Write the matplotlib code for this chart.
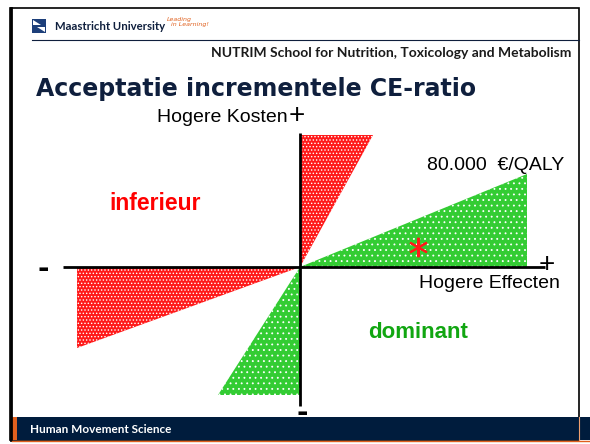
import numpy as np
import matplotlib.pyplot as plt
from matplotlib.patches import Rectangle, Polygon

# kosten-effectiviteitsvlak, eenheden: effect (x) en kosten (y)
effect_axis = [-2.37, 2.45]
cost_axis = [-1.39, 1.34]

# acceptabel (groen): onder drempel 80.000 EUR/QALY
accept_ne_e = [0, 2.27, 2.27]
accept_ne_c = [0, 0.93, 0]
accept_sw_e = [0, 0, -0.82]
accept_sw_c = [0, -1.28, -1.28]

# niet acceptabel (rood)
reject_ne_e = [0, 0, 0.73]
reject_ne_c = [0, 1.32, 1.32]
reject_sw_e = [0, -2.23, -2.23]
reject_sw_c = [0, 0, -0.81]

star_e, star_c = [1.18], [0.20]

navy = '#0f1f3d'
band = '#001c3d'
orange = '#e0601e'
red = '#ff1a1a'
green = '#33cc33'

plt.rcParams['hatch.color'] = 'white'
plt.rcParams['hatch.linewidth'] = 0.6

fig = plt.figure(figsize=(5.9, 4.44), dpi=100)

# slide-opmaak in pixels
deco = fig.add_axes([0, 0, 1, 1])
deco.set_xlim(0, 590)
deco.set_ylim(444, 0)
deco.axis('off')
deco.add_patch(Rectangle((10, 8), 569, 432, fill=False, ec='black', lw=1.2))
deco.plot([10.5, 10.5], [8, 440], color='black', lw=2)
deco.plot([32, 579], [40, 40], color=navy, lw=0.8)
deco.add_patch(Rectangle((17, 417), 573, 23, color=band, lw=0))
deco.add_patch(Rectangle((12, 417), 5, 23, color=orange, lw=0))
deco.plot([12, 590], [440.5, 440.5], color=orange, lw=1)
deco.plot([579, 579], [417, 440], color='#f0a070', lw=0.8)
deco.add_patch(Polygon([[32, 19], [46, 19], [46, 33], [32, 33]], color='#1d3f7a', lw=0))
deco.add_patch(Polygon([[33, 20], [41, 25], [33, 25]], color='white', lw=0))
deco.add_patch(Polygon([[45, 32], [37, 27], [45, 27]], color='white', lw=0))
deco.text(55, 26, 'Maastricht University', fontsize=8.2, fontweight='bold',
          family='Lato', color=navy, va='center')
deco.text(167, 22, 'Leading\n  in Learning!', fontsize=4.5, style='italic',
          color=orange, va='center', linespacing=0.9)
deco.text(571, 53, 'NUTRIM School for Nutrition, Toxicology and Metabolism',
          fontsize=10, fontweight='bold', family='Lato', color='#1a1a1a',
          ha='right', va='center')
deco.text(36, 89, 'Acceptatie incrementele CE-ratio', fontsize=17,
          fontweight='bold', family='DejaVu Sans', color=navy, va='center')
deco.text(30, 429, 'Human Movement Science', fontsize=8.5, fontweight='bold',
          family='Lato', color='white', va='center')

# het vlak zelf
ax = fig.add_axes([40 / 590, 24 / 444, 520 / 590, 310 / 444])
ax.set_xlim(-2.6, 2.6)
ax.set_ylim(-1.53, 1.57)
ax.axis('off')
ax.patch.set_alpha(0)

ax.fill(reject_ne_e, reject_ne_c, facecolor=red, hatch='.....', lw=0)
ax.fill(reject_sw_e, reject_sw_c, facecolor=red, hatch='.....', lw=0)
ax.fill(accept_ne_e, accept_ne_c, facecolor=green, hatch='...', lw=0)
ax.fill(accept_sw_e, accept_sw_c, facecolor=green, hatch='...', lw=0)

ax.plot(effect_axis, [0, 0], color='black', lw=2, solid_capstyle='butt')
ax.plot([0, 0], cost_axis, color='black', lw=2, solid_capstyle='butt')

ax.plot(star_e, star_c, marker=(6, 2, 0), color=red, ms=14, mew=1.5, ls='none')

lab = dict(family='Liberation Sans', color='black')
ax.text(-0.12, 1.50, 'Hogere Kosten', fontsize=14, ha='right', va='center', **lab)
ax.text(-0.03, 1.51, '+', fontsize=20, ha='center', va='center', **lab)
ax.text(1.895, -0.17, 'Hogere Effecten', fontsize=14, ha='center', va='center', **lab)
ax.text(2.47, 0.02, '+', fontsize=20, ha='center', va='center', **lab)
ax.text(1.96, 1.02, '80.000  €/QALY', fontsize=14, ha='center', va='center', **lab)
ax.text(-2.57, -0.02, '-', fontsize=20, fontweight='bold', ha='center', va='center',
        family='DejaVu Sans', clip_on=False)
ax.text(0.02, -1.46, '-', fontsize=20, fontweight='bold', ha='center', va='center',
        family='DejaVu Sans', clip_on=False)
ax.text(-1.45, 0.64, 'inferieur', fontsize=16.5, fontweight='bold', color='#ff0000',
        family='Liberation Sans', ha='center', va='center')
ax.text(1.18, -0.65, 'dominant', fontsize=16, fontweight='bold', color='#11a611',
        family='Liberation Sans', ha='center', va='center')

fig.savefig('out.png', dpi=100)
